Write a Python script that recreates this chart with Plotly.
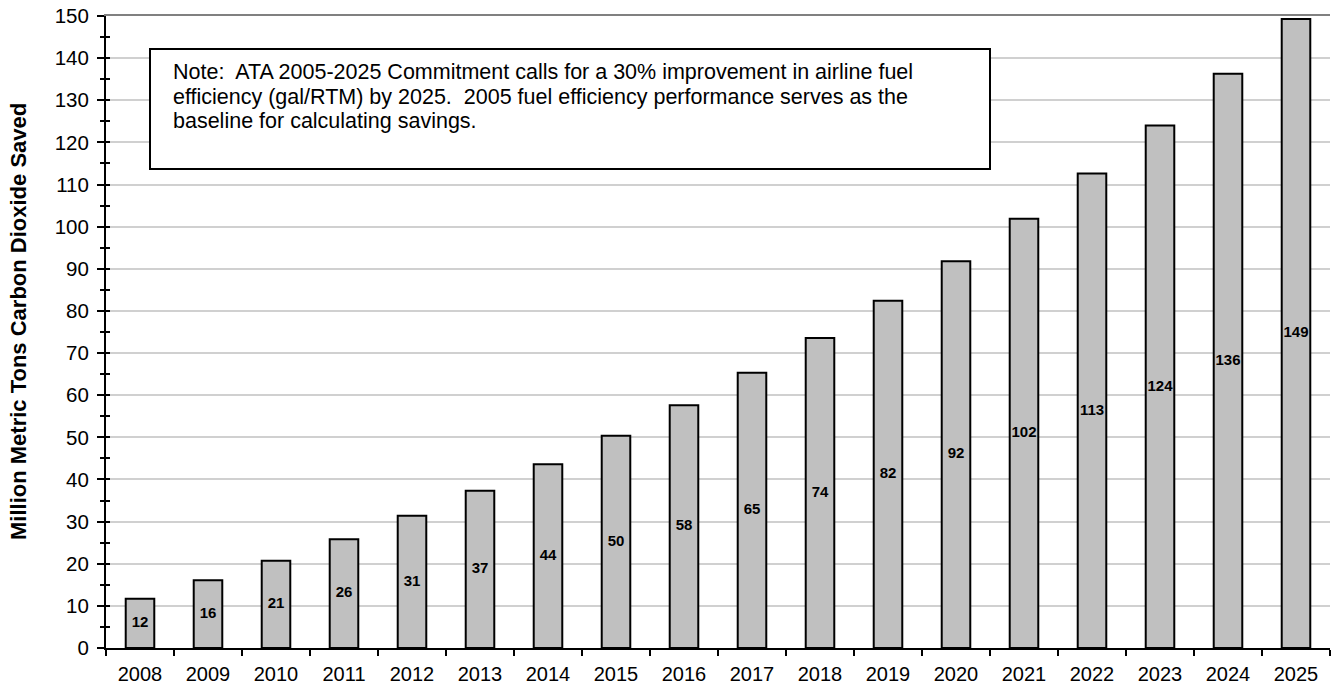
import plotly.graph_objects as go

years = [str(y) for y in range(2008, 2026)]
co2_saved = [11.7, 16.1, 20.7, 25.8, 31.4, 37.3, 43.6, 50.4, 57.6, 65.3, 73.6, 82.4, 91.8, 101.9, 112.6, 124.0, 136.3, 149.3]
bar_labels = ["12", "16", "21", "26", "31", "37", "44", "50", "58", "65", "74", "82", "92", "102", "113", "124", "136", "149"]

y_title = "<b>Million Metric Tons Carbon Dioxide Saved</b>"
note_lines = [
    "Note:\u00a0 ATA 2005-2025 Commitment calls for a 30% improvement in airline fuel",
    "efficiency (gal/RTM) by 2025.\u00a0 2005 fuel efficiency performance serves as the",
    "baseline for calculating savings.",
]

FONT = "Liberation Sans, Arial, sans-serif"
PLOT_L, PLOT_W, PLOT_B, PLOT_H = 106, 1224, 648, 632

fig = go.Figure()
fig.add_trace(go.Bar(
    x=years, y=co2_saved,
    marker=dict(color="#c0c0c0", line=dict(color="black", width=2)),
    width=0.42, hoverinfo="x+y",
))
# value labels centred in each bar
fig.add_trace(go.Scatter(
    x=years, y=[v / 2 for v in co2_saved], text=bar_labels, mode="text",
    textposition="middle center",
    textfont=dict(family=FONT, size=15, color="black", weight="bold"),
    hoverinfo="skip", cliponaxis=False,
))
# invisible helper trace for the inside-tick / top-border axes
fig.add_trace(go.Scatter(x=[years[0]], y=[0], xaxis="x2", yaxis="y2",
                         mode="markers", marker=dict(opacity=0), showlegend=False, hoverinfo="skip"))

annotations = []
for i, line in enumerate(note_lines):
    top_px = 58 + i * 24.5
    annotations.append(dict(
        text=line, xref="paper", yref="paper",
        x=(171 - PLOT_L) / PLOT_W, y=(PLOT_B - top_px) / PLOT_H,
        xanchor="left", yanchor="top", align="left", showarrow=False,
        font=dict(size=21.5, color="black")))
annotations.append(dict(
    text=y_title, xref="paper", yref="paper", textangle=-90,
    x=(18 - PLOT_L) / PLOT_W, y=(PLOT_B - 322) / PLOT_H,
    xanchor="center", yanchor="middle", showarrow=False,
    font=dict(size=22, color="black")))

fig.update_layout(
    width=1333, height=688,
    margin=dict(l=106, r=3, t=16, b=40, autoexpand=False),
    plot_bgcolor="white", paper_bgcolor="white",
    showlegend=False,
    font=dict(family=FONT, size=20, color="black"),
    xaxis=dict(
        type="category", tickson="boundaries", ticks="outside", ticklen=6, tickwidth=1.5,
        tickcolor="black", showline=True, linecolor="black", linewidth=2, automargin=False,
        showgrid=False, tickfont=dict(size=20), ticklabelstandoff=7, range=[-0.5, 17.5],
    ),
    yaxis=dict(
        range=[0, 150], dtick=10, ticks="outside", ticklen=7, tickwidth=1.5, tickcolor="black",
        showline=True, linecolor="black", linewidth=2, automargin=False,
        showgrid=True, gridcolor="#d0d0d0", gridwidth=1.5, zeroline=False,
        minor=dict(dtick=5, ticks="outside", ticklen=4, tickwidth=1.5, tickcolor="black", showgrid=False),
        tickfont=dict(size=20.5), ticklabelstandoff=4,
    ),
    yaxis2=dict(
        range=[0, 150], overlaying="y", side="left", dtick=5, ticks="inside", ticklen=4,
        tickwidth=1.5, tickcolor="black", showticklabels=False, showgrid=False, zeroline=False,
        showline=False, automargin=False,
    ),
    xaxis2=dict(
        overlaying="x", side="top", type="category", showline=True, linecolor="#808080",
        linewidth=1.5, ticks="", showticklabels=False, showgrid=False, zeroline=False,
        range=[-0.5, 17.5], automargin=False,
    ),
    shapes=[dict(type="rect", xref="paper", yref="paper",
                 x0=(150 - PLOT_L) / PLOT_W, x1=(990 - PLOT_L) / PLOT_W,
                 y0=(PLOT_B - 169) / PLOT_H, y1=(PLOT_B - 49) / PLOT_H,
                 line=dict(color="black", width=2), fillcolor="white", layer="above")],
    annotations=annotations,
)

fig.write_html("out.html")
